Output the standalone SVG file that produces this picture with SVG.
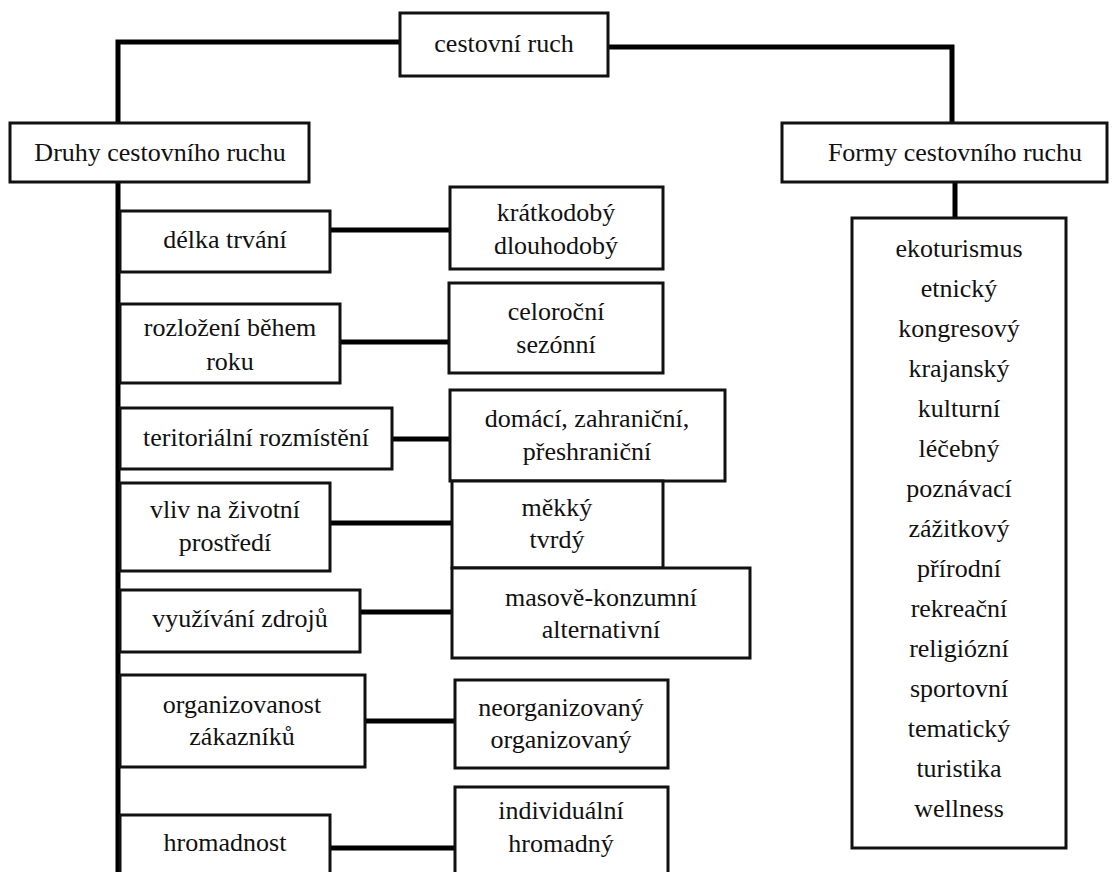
<svg xmlns="http://www.w3.org/2000/svg" width="1116" height="872" viewBox="0 0 1116 872">
<style>
.b{fill:#fff;stroke:#111;stroke-width:3}
.c{fill:none;stroke:#000;stroke-width:5}
.t text{font-family:'Liberation Serif','Times New Roman',serif;font-size:26px;fill:#111;text-anchor:middle}
</style>
<rect width="1116" height="872" fill="#fff"/>
<g id="connectors">
<path class="c" d="M400 42H118V124"/>
<path class="c" d="M608 47H952V124"/>
<path class="c" d="M955 182V218"/>
<path class="c" d="M118 182V872"/>
<path class="c" d="M330 230H450"/>
<path class="c" d="M340 342H449"/>
<path class="c" d="M392 439H450"/>
<path class="c" d="M330 523H452"/>
<path class="c" d="M360 612H452"/>
<path class="c" d="M365 721H455"/>
<path class="c" d="M330 848H455"/>
</g>
<g class="t">
<g id="root"><rect class="b" x="400" y="13" width="208" height="63"/><text x="504" y="52">cestovní ruch</text></g>
<g id="druhy"><rect class="b" x="10" y="123" width="299" height="59"/><text x="160" y="161">Druhy cestovního ruchu</text></g>
<g id="formy"><rect class="b" x="782" y="123" width="325" height="59"/><text x="955" y="161">Formy cestovního ruchu</text></g>
<g id="formy-list"><rect class="b" x="852" y="218" width="214" height="630"/>
<text x="959" y="257">ekoturismus</text>
<text x="959" y="297">etnický</text>
<text x="959" y="337">kongresový</text>
<text x="959" y="377">krajanský</text>
<text x="959" y="417">kulturní</text>
<text x="959" y="457">léčebný</text>
<text x="959" y="497">poznávací</text>
<text x="959" y="537">zážitkový</text>
<text x="959" y="577">přírodní</text>
<text x="959" y="617">rekreační</text>
<text x="959" y="657">religiózní</text>
<text x="959" y="697">sportovní</text>
<text x="959" y="737">tematický</text>
<text x="959" y="777">turistika</text>
<text x="959" y="817">wellness</text>
</g>
<g id="delka"><rect class="b" x="120" y="211" width="210" height="61"/><text x="225" y="248">délka trvání</text></g>
<g id="delka-v"><rect class="b" x="450" y="187" width="213" height="82"/><text x="556" y="221">krátkodobý</text><text x="556" y="254">dlouhodobý</text></g>
<g id="rozlozeni"><rect class="b" x="120" y="304" width="220" height="79"/><text x="230" y="336">rozložení během</text><text x="230" y="370">roku</text></g>
<g id="rozlozeni-v"><rect class="b" x="449" y="283" width="214" height="90"/><text x="556" y="320">celoroční</text><text x="556" y="353">sezónní</text></g>
<g id="teritorialni"><rect class="b" x="120" y="408" width="272" height="61"/><text x="256" y="446">teritoriální rozmístění</text></g>
<g id="teritorialni-v"><rect class="b" x="450" y="390" width="275" height="91"/><text x="587" y="427">domácí, zahraniční,</text><text x="587" y="460">přeshraniční</text></g>
<g id="vliv"><rect class="b" x="120" y="483" width="210" height="88"/><text x="225" y="518">vliv na životní</text><text x="225" y="551">prostředí</text></g>
<g id="vliv-v"><rect class="b" x="452" y="481" width="211" height="87"/><text x="557" y="516">měkký</text><text x="557" y="548">tvrdý</text></g>
<g id="vyuzivani"><rect class="b" x="120" y="590" width="240" height="62"/><text x="240" y="627">využívání zdrojů</text></g>
<g id="vyuzivani-v"><rect class="b" x="452" y="568" width="298" height="90"/><text x="601" y="606">masově-konzumní</text><text x="601" y="638">alternativní</text></g>
<g id="organizovanost"><rect class="b" x="120" y="675" width="245" height="92"/><text x="242" y="713">organizovanost</text><text x="242" y="745">zákazníků</text></g>
<g id="organizovanost-v"><rect class="b" x="455" y="680" width="213" height="88"/><text x="561" y="716">neorganizovaný</text><text x="561" y="748">organizovaný</text></g>
<g id="hromadnost"><rect class="b" x="120" y="815" width="210" height="80"/><text x="225" y="851">hromadnost</text></g>
<g id="hromadnost-v"><rect class="b" x="455" y="787" width="213" height="110"/><text x="561" y="819">individuální</text><text x="561" y="852">hromadný</text></g>
</g>
</svg>
